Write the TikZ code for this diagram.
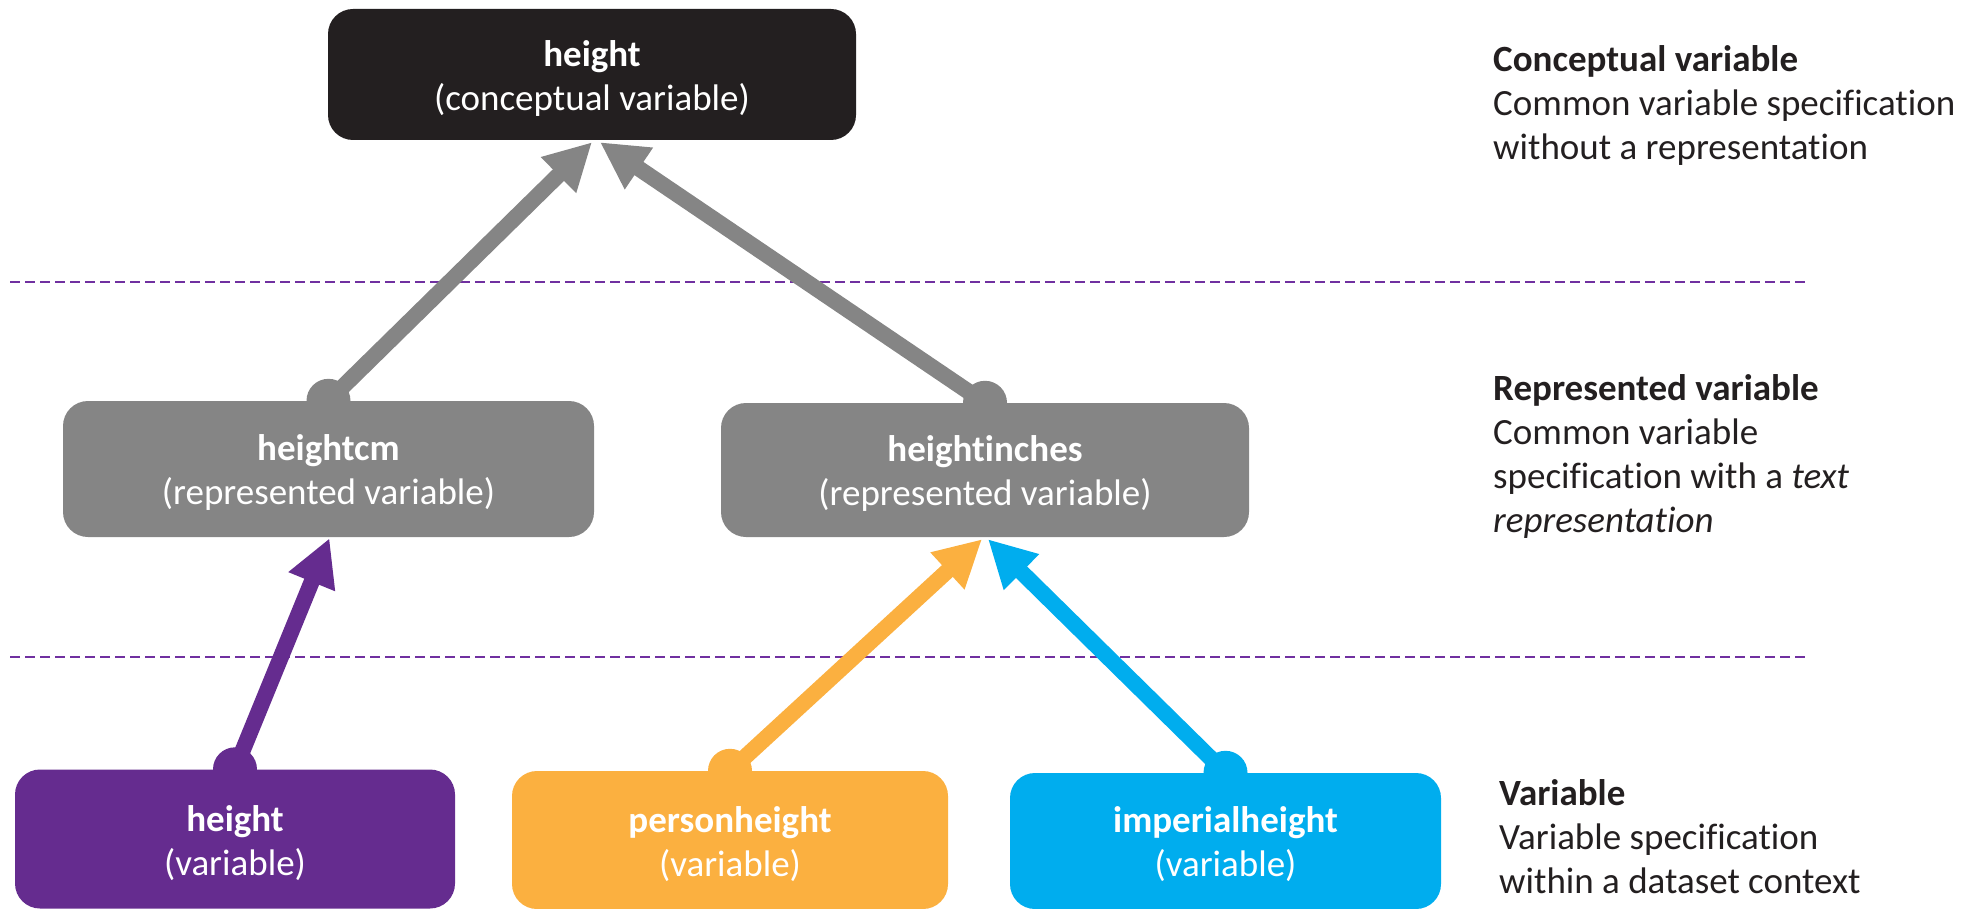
\documentclass[tikz,border=0pt]{standalone}
\usepackage{fontspec}
\setmainfont{Carlito}[RawFeature={-liga;-clig;-calt;-dlig}]
\usetikzlibrary{arrows.meta}
\definecolor{topblack}{HTML}{231F20}
\definecolor{midgray}{HTML}{858585}
\definecolor{vpurple}{HTML}{652C8F}
\definecolor{vorange}{HTML}{FBB040}
\definecolor{vblue}{HTML}{00ADEE}
\definecolor{dashpurple}{HTML}{7030A0}
\definecolor{txt}{HTML}{231F20}
\tikzset{
  box/.style={rectangle, rounded corners=25pt, inner sep=0pt},
  boxtext/.style={inner sep=0pt, align=center, text=white,
    font=\fontsize{37}{44}\selectfont},
  conn/.style={line width=16pt, -{Triangle[length=47pt,width=47pt]}},
  sep/.style={dashpurple, line width=1.5pt, dash pattern=on 10pt off 5pt},
  desc/.style={anchor=west, align=left, text=txt, inner sep=0pt,
    font=\fontsize{37}{44}\selectfont}
}
\begin{document}
\begin{tikzpicture}[x=1pt,y=-1pt]
\useasboundingbox (0,0) rectangle (1977,909);
% separators
\coordinate (s1a) at (10,282); \coordinate (s1b) at (1808,282);
\coordinate (s2a) at (10,657); \coordinate (s2b) at (1808,657);
\draw[sep] (s1a) -- (s1b);
\draw[sep] (s2a) -- (s2b);
% boxes
\node[box, fill=topblack, minimum width=528pt, minimum height=131pt] (top) at (592,74.5) {};
\node[box, fill=midgray, minimum width=531pt, minimum height=136pt] (hcm) at (328.5,469) {};
\node[box, fill=midgray, minimum width=528pt, minimum height=134pt] (hin) at (985,470) {};
\node[box, fill=vpurple, minimum width=440pt, minimum height=139pt] (hv) at (235,839) {};
\node[box, fill=vorange, minimum width=436pt, minimum height=138pt] (ph) at (730,840) {};
\node[box, fill=vblue, minimum width=431pt, minimum height=136pt] (ih) at (1225.5,841) {};
% box texts
\node[boxtext] (topt) at ([yshift=-4pt]top.center) {\textbf{height}\\(conceptual variable)};
\node[boxtext] (hcmt) at ([yshift=-3.5pt]hcm.center) {\textbf{heightcm}\\(represented variable)};
\node[boxtext] (hint) at ([yshift=-3.5pt]hin.center) {\textbf{heightinches}\\(represented variable)};
\node[boxtext] (hvt) at ([yshift=-4.5pt]hv.center) {\textbf{height}\\(variable)};
\node[boxtext] (pht) at ([yshift=-4pt]ph.center) {\textbf{personheight}\\(variable)};
\node[boxtext] (iht) at ([yshift=-3pt]ih.center) {\textbf{imperialheight}\\(variable)};
% connectors
\draw[conn, midgray] (hcm.north) -- ([xshift=0pt,yshift=-2pt]top.south);
\fill[midgray] (hcm.north) circle[radius=22pt];
\draw[conn, midgray] (hin.north) -- ([xshift=8pt,yshift=-2pt]top.south);
\fill[midgray] (hin.north) circle[radius=22pt];
\draw[conn, vpurple] (hv.north) -- ([xshift=1pt,yshift=-1pt]hcm.south);
\fill[vpurple] (hv.north) circle[radius=22pt];
\draw[conn, vorange] (ph.north) -- ([xshift=-3pt,yshift=-2pt]hin.south);
\fill[vorange] (ph.north) circle[radius=22pt];
\draw[conn, vblue] (ih.north) -- ([xshift=3pt,yshift=-2pt]hin.south);
\fill[vblue] (ih.north) circle[radius=22pt];
% descriptions
\node[desc] (d1) at (1493,105.5) {\textbf{Conceptual variable}\\Common variable specification\\without a representation};
\node[desc] (d2) at (1493,456.5) {\textbf{Represented variable}\\Common variable\\specification with a \textit{text}\\\textit{representation}};
\node[desc] (d3) at (1499,836.5) {\textbf{Variable}\\Variable specification\\within a dataset context};
\end{tikzpicture}
\end{document}
